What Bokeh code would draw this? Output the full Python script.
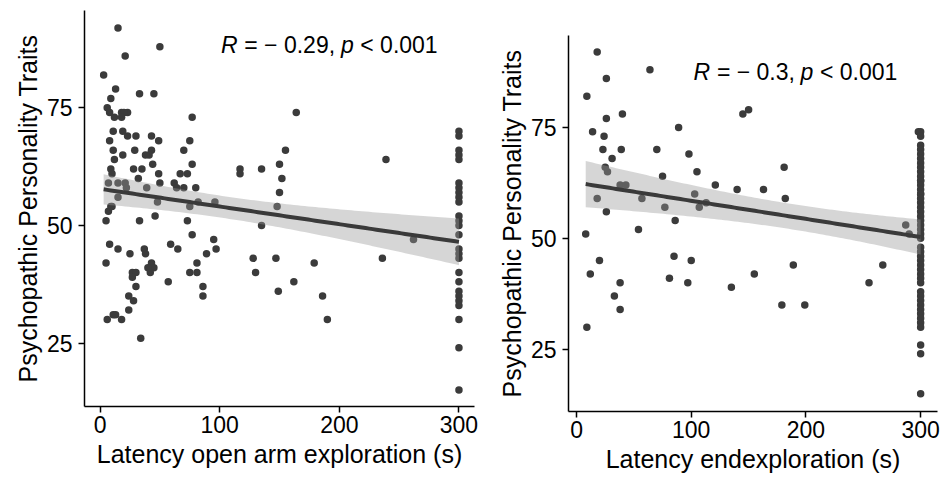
import numpy as np
from bokeh.plotting import figure
from bokeh.layouts import row
from bokeh.models import Label, FixedTicker, Range1d
from bokeh.embed import file_html
from bokeh.resources import INLINE

# ---------------- data ----------------
# Panel A: latency open arm exploration (s) vs psychopathic traits
open_arm_x = [15, 50, 21, 3, 13, 9, 33, 45, 6, 8, 18, 23, 20, 12, 18, 77, 164,
              11, 19, 23, 30, 43, 49, 75, 8, 11, 29, 43, 41, 38, 70, 19, 12,
              44, 77, 9, 10, 28, 35, 32, 49, 67, 73, 117, 117, 135, 150, 152, 150, 155, 239,
              50, 62, 64, 70, 80,
              7, 15, 21, 22, 39, 15, 48, 75, 82, 96, 148, 262,
              7, 9, 10, 5, 33, 46, 73, 8, 15, 25, 37, 38, 59, 65, 77, 5, 43, 45, 42, 40,
              57, 81, 89, 95, 97, 128, 130, 147, 149, 75, 81, 27, 30, 27, 30, 24, 28, 24,
              86, 86, 6, 11, 13, 18, 34, 162, 179, 186, 190, 236, 135]
open_arm_y = [92, 88, 86, 82, 79, 77, 78, 78, 75, 74, 74, 74, 74, 73, 73, 73, 74,
              70, 70, 69, 69, 69, 68, 68, 68, 66, 66, 66, 65, 65, 66, 65, 64,
              63, 63, 62, 61, 62, 62, 60, 61, 61, 61, 62, 61, 62, 63, 60, 57, 66, 64,
              59, 59, 58, 58, 58,
              59, 59, 59, 58, 58, 56, 55, 54, 55, 55, 54, 47,
              53, 54, 54, 51, 51, 52, 51, 46, 45, 44, 45, 44, 46, 45, 48, 42, 42, 41, 40, 41,
              38, 42, 44, 47, 45, 43, 40, 43, 36, 40, 40, 40, 40, 39, 37, 35, 34, 32,
              37, 35, 30, 31, 31, 30, 26, 38, 42, 35, 30, 43, 50]
open_arm_ceiling_y = [70, 69, 66, 65, 64, 59, 58, 57, 56, 55, 52, 51, 50, 48, 45, 44, 43,
                      40, 38, 36, 35, 34, 33, 30, 24, 15]
ceiling_s = 300

# Panel B: latency end exploration (s) vs psychopathic traits
end_x = [18, 64, 26, 9, 26, 40, 14, 24, 89, 23, 39, 70, 31, 98, 25, 27, 105, 75, 121, 140,
         38, 43, 18, 57, 103, 77, 107, 113, 26, 86, 54, 8, 20, 85, 100, 12, 155, 81, 97, 38,
         135, 33, 38, 9, 145, 150, 181, 163, 182, 189, 179, 199, 255, 267, 287, 290, 298]
end_y = [92, 88, 86, 82, 77, 78, 74, 73, 75, 70, 70, 70, 68, 69, 66, 65, 65, 64, 62, 61,
         62, 62, 59, 59, 60, 57, 57, 58, 56, 54, 52, 51, 45, 46, 45, 42, 42, 41, 40, 40,
         39, 37, 34, 30, 78, 79, 66, 61, 59, 44, 35, 35, 40, 44, 53, 51, 74]
end_ceiling_y = [74, 73, 71, 70, 69, 68, 67, 66, 65, 64, 63, 63, 62, 61, 60, 60, 59, 58, 57,
                 56, 55, 54, 53, 52, 51, 50, 48, 47, 46, 45, 44, 43, 42, 41, 40, 38, 37, 36,
                 35, 34, 33, 32, 31, 30, 26, 24, 15]

x_ticks = [0, 100, 200, 300]
y_ticks = [25, 50, 75]
y_title = "Psychopathic Personality Traits"
xlabel_a = "Latency open arm exploration (s)"
xlabel_b = "Latency endexploration (s)"
NB = "\u00a0"
stat_a = ("R", NB + "=" + NB + "\u2212" + NB + "0.29,", "p", NB + "<" + NB + "0.001")
stat_b = ("R", NB + "=" + NB + "\u2212" + NB + "0.3,", "p", NB + "<" + NB + "0.001")

FONT = "Liberation Sans"
PT = "#3b3b3b"


def panel(xs, ys, xlabel, stat, width, xr, yr, borders, stat_pos, offs):
    left, right, top, bottom = borders
    p = figure(width=width, height=477, output_backend="svg", toolbar_location=None,
               x_range=Range1d(*xr), y_range=Range1d(*yr),
               min_border_left=left, min_border_right=right,
               min_border_top=top, min_border_bottom=bottom, frame_align=False)
    p.outline_line_color = None
    p.grid.visible = False
    p.background_fill_color = "white"
    p.border_fill_color = "white"

    xa = np.array(xs, float)
    ya = np.array(ys, float)
    p.scatter(xa, ya, size=7.5, fill_color=PT, line_color=None)

    # linear fit with 95% confidence band
    n = len(xa)
    b, a = np.polyfit(xa, ya, 1)
    xm = xa.mean()
    resid = ya - (a + b * xa)
    s = np.sqrt((resid ** 2).sum() / (n - 2))
    gx = np.linspace(xa.min(), xa.max(), 100)
    gy = a + b * gx
    se = s * np.sqrt(1.0 / n + (gx - xm) ** 2 / ((xa - xm) ** 2).sum())
    p.varea(x=gx, y1=gy - 1.97 * se, y2=gy + 1.97 * se, fill_color="#999999", fill_alpha=0.4)
    p.line(gx, gy, line_color="#3a3a3a", line_width=4)

    for ax in (p.xaxis[0], p.yaxis[0]):
        ax.axis_line_color = "black"
        ax.axis_line_width = 1.5
        ax.major_tick_line_color = "black"
        ax.major_tick_line_width = 1.5
        ax.major_tick_out = 6
        ax.major_tick_in = 0
        ax.minor_tick_line_color = None
        ax.major_label_text_font = FONT
        ax.major_label_text_font_size = "23px"
        ax.major_label_text_color = "black"
        ax.axis_label_text_font = FONT
        ax.axis_label_text_font_size = "25px"
        ax.axis_label_text_font_style = "normal"
        ax.axis_label_text_color = "black"
    p.xaxis.ticker = FixedTicker(ticks=x_ticks)
    p.yaxis.ticker = FixedTicker(ticks=y_ticks)
    p.xaxis.axis_label = xlabel
    p.yaxis.axis_label = y_title
    p.xaxis.major_label_standoff = 3
    p.yaxis.major_label_standoff = 6
    p.xaxis.axis_label_standoff = 4
    p.yaxis.axis_label_standoff = 2

    sx, sy = stat_pos
    styles = ["italic", "normal", "italic", "normal"]
    for txt, off, st in zip(stat, offs, styles):
        p.add_layout(Label(x=sx, y=sy, x_offset=off, text=txt, text_font=FONT,
                           text_font_size="23px", text_font_style=st,
                           text_color="black", text_baseline="middle", text_align="left"))
    return p


p1 = panel(open_arm_x + [ceiling_s] * len(open_arm_ceiling_y), open_arm_y + open_arm_ceiling_y,
           xlabel_a, stat_a, 480, (-13, 313), (11.5, 95.7), (84, 6, 10, 71), (101, 88.3),
           [0, 17, 120, 133])
p2 = panel(end_x + [ceiling_s] * len(end_ceiling_y), end_y + end_ceiling_y,
           xlabel_b, stat_b, 463, (-7, 314.7), (11.0, 95.7), (88, 6, 35, 66), (102, 87.4),
           [0, 17, 107, 120])

layout = row(p1, p2)
open("out.html", "w").write(file_html(layout, INLINE))
